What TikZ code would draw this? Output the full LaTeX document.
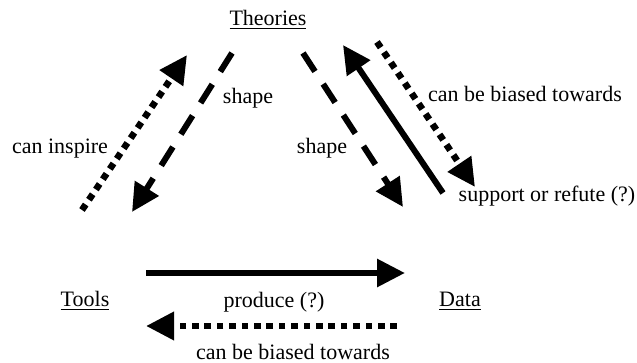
\documentclass[tikz,border=0pt]{standalone}
\usepackage{fontspec}
\setmainfont{Liberation Serif}
\usetikzlibrary{arrows.meta}
\begin{document}
\begin{tikzpicture}[x=0.5pt, y=-0.5pt,
    txt/.style={font=\fontsize{11}{13}\selectfont, inner sep=0pt},
    solidarr/.style={line width=3pt, -{Triangle[length=14pt, width=13.5pt]}},
    dasharr/.style={line width=3pt, dash pattern=on 11pt off 7.5pt, -{Triangle[length=14pt, width=13.5pt]}},
    dotarr/.style={line width=3.3pt, dash pattern=on 3.3pt off 2.9pt, -{Triangle[length=14pt, width=13.5pt]}}]
    \useasboundingbox (0,0) rectangle (637,363);
    % corner nodes
    \node[txt] (theories) at (268,20) {\underline{Theories}};
    \node[txt] (tools) at (85,301) {\underline{Tools}};
    \node[txt] (data) at (460,301) {\underline{Data}};
    % arrow end points
    \coordinate (inspireS) at (82,210);
    \coordinate (inspireE) at (187,55);
    \coordinate (shapeLS) at (232,53);
    \coordinate (shapeLE) at (132,212);
    \coordinate (shapeRS) at (303,53);
    \coordinate (shapeRE) at (403,207);
    \coordinate (supportS) at (443,193);
    \coordinate (supportE) at (343,45);
    \coordinate (biasRS) at (377,42);
    \coordinate (biasRE) at (475,187);
    \coordinate (produceS) at (146,273);
    \coordinate (produceE) at (405,273);
    \coordinate (biasBS) at (397,326);
    \coordinate (biasBE) at (146,326);
    \draw[dotarr] (inspireS) -- (inspireE);
    \draw[dasharr] (shapeLS) -- (shapeLE);
    \draw[dasharr] (shapeRS) -- (shapeRE);
    \draw[solidarr] (supportS) -- (supportE);
    \draw[dotarr] (biasRS) -- (biasRE);
    \draw[solidarr] (produceS) -- (produceE);
    \draw[dotarr] (biasBS) -- (biasBE);
    % labels
    \node[txt] (inspire) at (60,149) {can inspire};
    \node[txt] (shapeL) at (248,98) {shape};
    \node[txt] (shapeR) at (322,148) {shape};
    \node[txt] (biasR) at (525,94) {can be biased towards};
    \node[txt] (support) at (547,196) {support or refute (?)};
    \node[txt] (produce) at (274,302) {produce (?)};
    \node[txt] (biasB) at (293,352) {can be biased towards};
\end{tikzpicture}
\end{document}
